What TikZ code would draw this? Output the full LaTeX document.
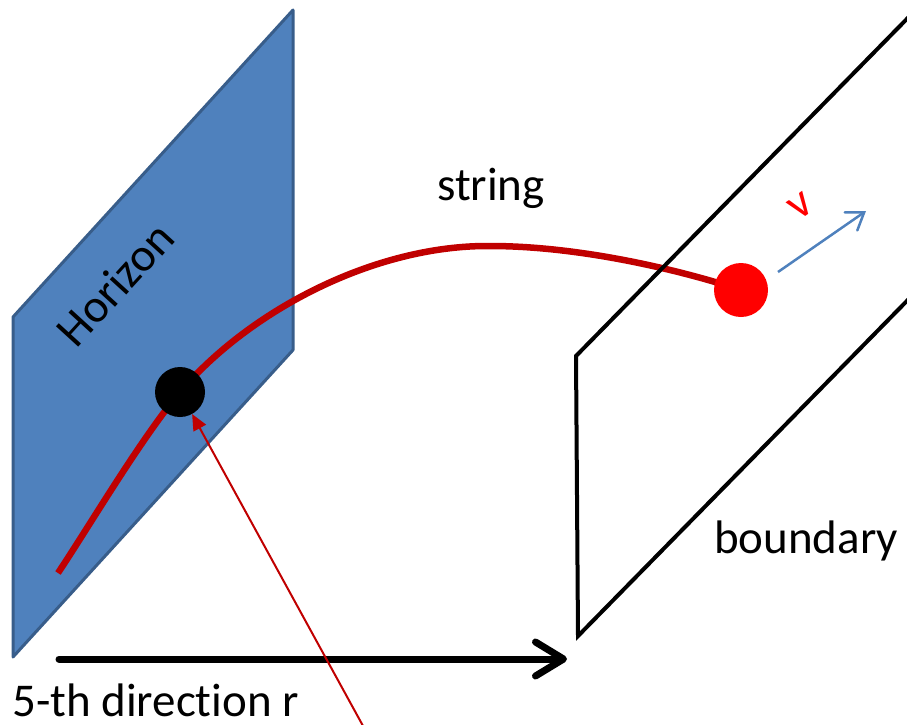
\documentclass[tikz,border=0pt]{standalone}
\usepackage{fontspec}
\setmainfont{Carlito}[Ligatures=NoCommon]
\usepackage{tikz}
\usetikzlibrary{arrows.meta, positioning, backgrounds}
\definecolor{PlaneBlue}{HTML}{4F81BD}
\definecolor{PlaneEdge}{HTML}{385D8A}
\definecolor{StringRed}{HTML}{C00000}
\definecolor{QuarkRed}{HTML}{FF0000}

\begin{document}
\begin{tikzpicture}[x=1pt, y=-1pt,
  lbl/.style={inner sep=0pt, font=\fontsize{47}{56}\selectfont},
  hdot/.style={circle, fill=black, minimum size=50pt, inner sep=0pt},
  qdot/.style={circle, fill=QuarkRed, minimum size=54pt, inner sep=0pt},
  strg/.style={StringRed, line width=6.5pt},
  wall/.style={black, line width=4pt, line join=miter},
  raxis/.style={line width=7pt, line cap=round,
     -{Straight Barb[length=28pt, width=34pt, line cap=round, line join=round]}},
  vel/.style={PlaneBlue, line width=2.5pt,
     -{Straight Barb[length=16pt, width=22pt, line cap=round]}},
  probe/.style={StringRed, line width=2pt, -{Triangle[length=16pt, width=14pt]}}]
  \useasboundingbox (0,0) rectangle (907,725);
  \clip (0,0) rectangle (907,725);
  % end points of the string
  \node[hdot] (bh) at (180,392) {};
  \node[qdot] (q) at (741,290) {};
  \coordinate (s0) at (58,573);
  \coordinate (pk) at (490,246);
  \begin{scope}[on background layer]
    % horizon plane
    \draw[fill=PlaneBlue, draw=PlaneEdge, line width=3pt, line join=round]
      (13,317) -- (293,10) -- (293,350) -- (13,657) -- cycle;
    \node[lbl, rotate=47.6] (hor) at (115,284) {Horizon};
    % the string hanging from the boundary into the horizon
    \draw[strg] (s0) .. controls (90,525) and (140,440) .. (bh.center)
      .. controls (250,310) and (375,245) .. (pk)
      .. controls (580,246) and (680,270) .. (q.center);
  \end{scope}
  % boundary plane (runs off the page)
  \draw[wall] (950,-25) -- (576,356) -- (578,636) -- (950,257);
  % labels
  \node[lbl, anchor=base] (str) at (491,200) {string};
  \node[lbl, anchor=base] (bdy) at (806,553) {boundary};
  \node[lbl, anchor=base west] (rdir) at (12,716) {5-th direction r};
  \node[lbl, text=QuarkRed, rotate=35] (vl) at (801,206) {v};
  % velocity and radial axis
  \coordinate (vs) at (778,272);
  \coordinate (ve) at (866,211);
  \draw[vel] (vs) -- (ve);
  \coordinate (r0) at (59,659);
  \coordinate (r1) at (567,659);
  \draw[raxis] (r0) -- (r1);
  \coordinate (src) at (368,735);
  \draw[probe] (src) -- (bh);
\end{tikzpicture}
\end{document}
